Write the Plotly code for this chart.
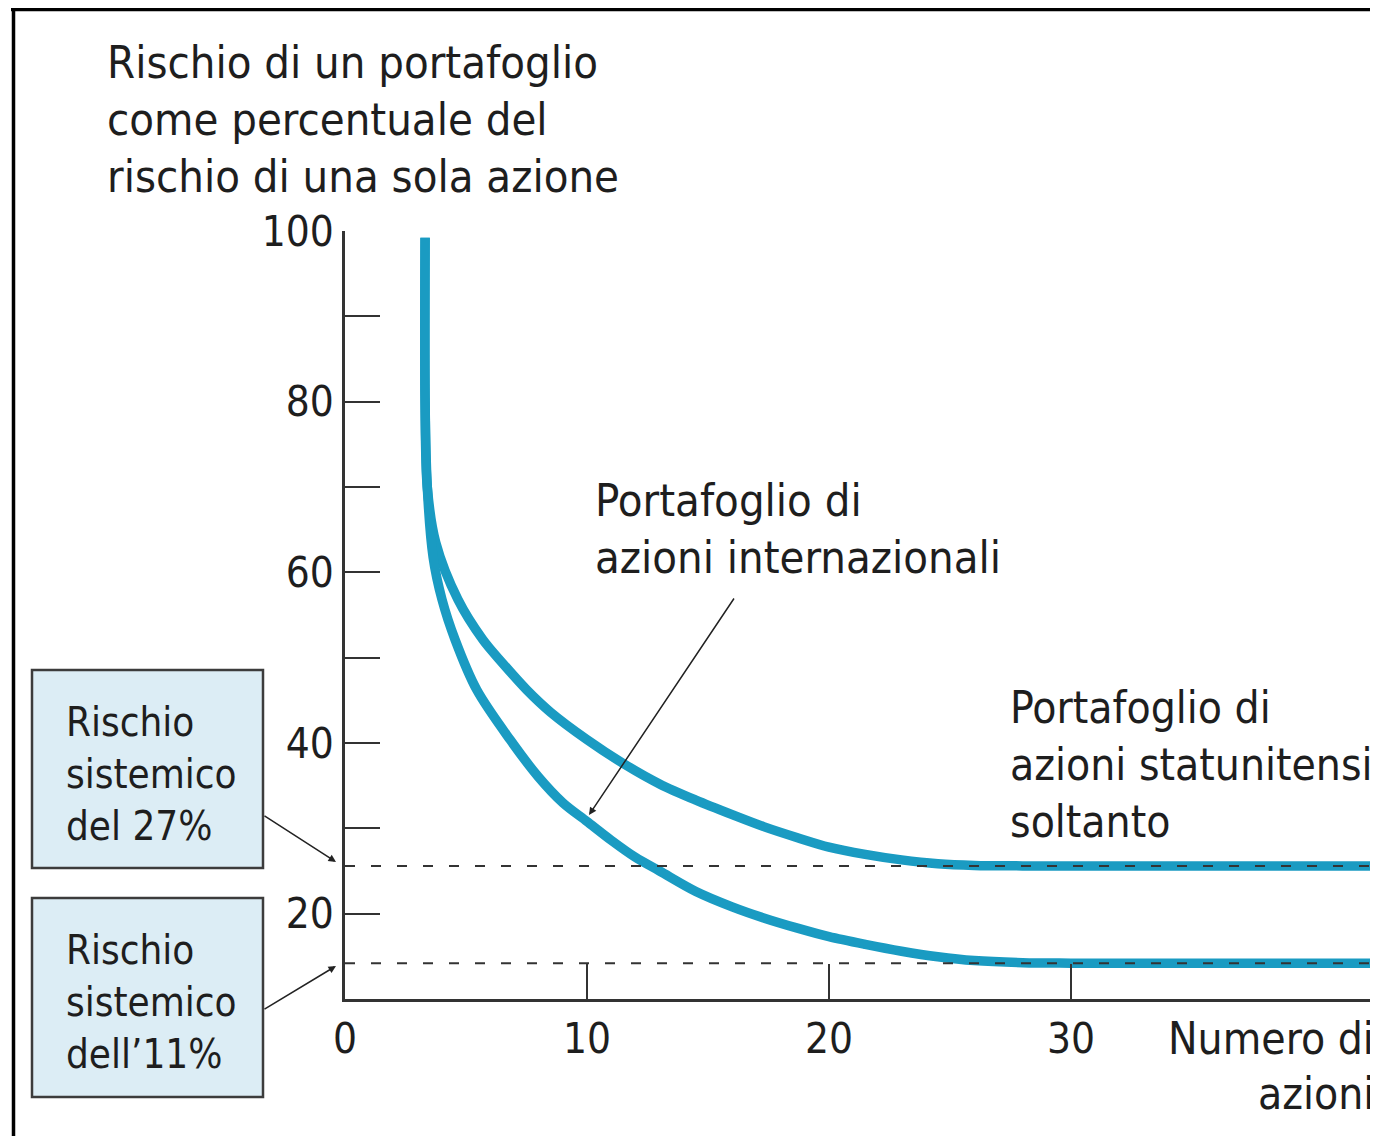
import plotly.graph_objects as go

# ---------------- data ----------------
us_x = [3.31, 3.31, 3.40, 3.75, 4.67, 5.70, 6.50, 7.52, 8.50, 10.0, 11.5, 13.0, 14.5, 16.0, 17.3, 18.7, 20.0, 21.5, 23.0, 24.5, 26.0, 28.0, 42.7]
us_y = [99.2, 80.0, 70.0, 63.5, 56.8, 52.1, 49.4, 46.2, 43.6, 40.4, 37.6, 35.2, 33.3, 31.6, 30.2, 28.9, 27.8, 26.95, 26.3, 25.85, 25.65, 25.6, 25.6]

intl_x = [3.31, 3.31, 3.40, 3.64, 4.01, 4.55, 5.45, 6.82, 8.00, 9.00, 10.0, 11.0, 12.0, 13.0, 14.5, 16.0, 17.3, 18.7, 20.0, 21.5, 23.0, 24.5, 26.0, 28.0, 30.0, 42.7]
intl_y = [99.2, 80.0, 70.0, 61.8, 56.8, 52.1, 46.2, 40.4, 36.0, 33.0, 30.8, 28.6, 26.6, 25.0, 22.6, 20.8, 19.5, 18.3, 17.3, 16.4, 15.6, 14.95, 14.5, 14.25, 14.2, 14.2]

sys_levels = [25.6, 14.2]
x_range = [0, 42.69]
y_range = [10, 100]

x_tick_vals = [0, 10, 20, 30]
x_tick_text = ["0", "10", "20", "30"]
y_tick_vals = [20, 40, 60, 80, 100]
y_tick_text = ["20", "40", "60", "80", "100"]
y_minor_vals = [30, 50, 70, 90]

title_lines = ["Rischio di un portafoglio", "come percentuale del", "rischio di una sola azione"]
intl_lines = ["Portafoglio di", "azioni internazionali"]
us_lines = ["Portafoglio di", "azioni statunitensi", "soltanto"]
xlabel_lines = ["Numero di", "azioni"]
box1_lines = ["Rischio", "sistemico", "del 27%"]
box2_lines = ["Rischio", "sistemico", "dell\u201911%"]

# ---------------- style ----------------
OFF = 8                      # page body margin
W, H = 1378 - OFF, 1136 - OFF
ML, MR, MT = 345 - OFF, 0, 231 - OFF
MB = H - (999 - OFF)
FONT = "Liberation Sans Narrow, DejaVu Sans Condensed, Liberation Sans, sans-serif"
TXT = "#1e1e1e"
CURVE = "#1a9bc2"
AXC = "#333333"


def P(px, py):
    """page pixel -> paper coordinates"""
    fx, fy = px - OFF, py - OFF
    return ((fx - ML) / (W - ML - MR), (H - MB - fy) / (H - MT - MB))


fig = go.Figure()
for xs, ys in [(us_x, us_y), (intl_x, intl_y)]:
    fig.add_trace(go.Scatter(x=xs, y=ys, mode="lines",
                             line=dict(color=CURVE, width=9.5, shape="spline", smoothing=0.9),
                             hoverinfo="skip"))
for lv in sys_levels:
    fig.add_trace(go.Scatter(x=x_range, y=[lv, lv], mode="lines",
                             line=dict(color=AXC, width=2, dash="10px,16px"), hoverinfo="skip"))

annotations = []


def add_lines(lines, px, y0, dy, size, anchor="left"):
    for i, t in enumerate(lines):
        x, y = P(px, y0 + i * dy)
        annotations.append(dict(x=x, y=y, xref="paper", yref="paper", text=t, showarrow=False,
                                xanchor=anchor, yanchor="middle",
                                font=dict(family=FONT, size=size, color=TXT)))


add_lines(title_lines, 105, 62, 57, 45)
add_lines(intl_lines, 593, 500, 57, 45)
add_lines(us_lines, 1008, 707, 57, 44)
add_lines(xlabel_lines, 1376, 1038, 55, 44, anchor="right")
add_lines(box1_lines, 64, 722, 52, 40)
add_lines(box2_lines, 64, 950, 52, 40)

# arrows (head, tail in page pixels)
for (hx, hy, tx, ty) in [(589, 815, 735, 597), (336, 862, 263, 815), (336, 966, 263, 1010)]:
    x, y = P(hx, hy)
    annotations.append(dict(x=x, y=y, xref="paper", yref="paper", text="", showarrow=True,
                            ax=tx - hx, ay=ty - hy, arrowhead=2, arrowsize=1, arrowwidth=1.5,
                            arrowcolor="#222", standoff=0))

shapes = []
# explanation boxes
for (x0, y0, x1, y1) in [(32, 670, 263, 868), (32, 898, 263, 1097)]:
    a = P(x0, y1)
    b = P(x1, y0)
    shapes.append(dict(type="rect", xref="paper", yref="paper", x0=a[0], y0=a[1], x1=b[0], y1=b[1],
                       fillcolor="#dcedf5", line=dict(color="#3c3c3c", width=2.5), layer="above"))
# outer frame (top and left)
a, b = P(11, 9.5), P(1378, 9.5)
shapes.append(dict(type="line", xref="paper", yref="paper", x0=a[0], y0=a[1], x1=b[0], y1=b[1],
                   line=dict(color="black", width=3.5)))
a, b = P(13.5, 8), P(13.5, 1136)
shapes.append(dict(type="line", xref="paper", yref="paper", x0=a[0], y0=a[1], x1=b[0], y1=b[1],
                   line=dict(color="black", width=3.5)))

fig.update_layout(
    width=W, height=H,
    margin=dict(l=ML, r=MR, t=MT, b=MB, pad=0),
    paper_bgcolor="white", plot_bgcolor="white",
    showlegend=False,
    annotations=annotations,
    shapes=shapes,
    xaxis=dict(range=x_range, showgrid=False, zeroline=False, showline=True, linecolor=AXC, linewidth=2.5,
               ticks="inside", ticklen=35, tickwidth=2, tickcolor=AXC,
               tickmode="array", tickvals=x_tick_vals, ticktext=x_tick_text, ticklabelstandoff=1,
               tickfont=dict(family=FONT, size=42, color=TXT), fixedrange=True),
    yaxis=dict(range=y_range, showgrid=False, zeroline=False, showline=True, linecolor=AXC, linewidth=2.5,
               ticks="inside", ticklen=35, tickwidth=2, tickcolor=AXC,
               tickmode="array", tickvals=y_tick_vals, ticktext=y_tick_text,
               minor=dict(tickmode="array", tickvals=y_minor_vals, ticks="inside", ticklen=35,
                          tickwidth=2, tickcolor=AXC),
               tickfont=dict(family=FONT, size=42, color=TXT), fixedrange=True),
)

fig.write_html("out.html", default_width=f"{W}px", default_height=f"{H}px")
